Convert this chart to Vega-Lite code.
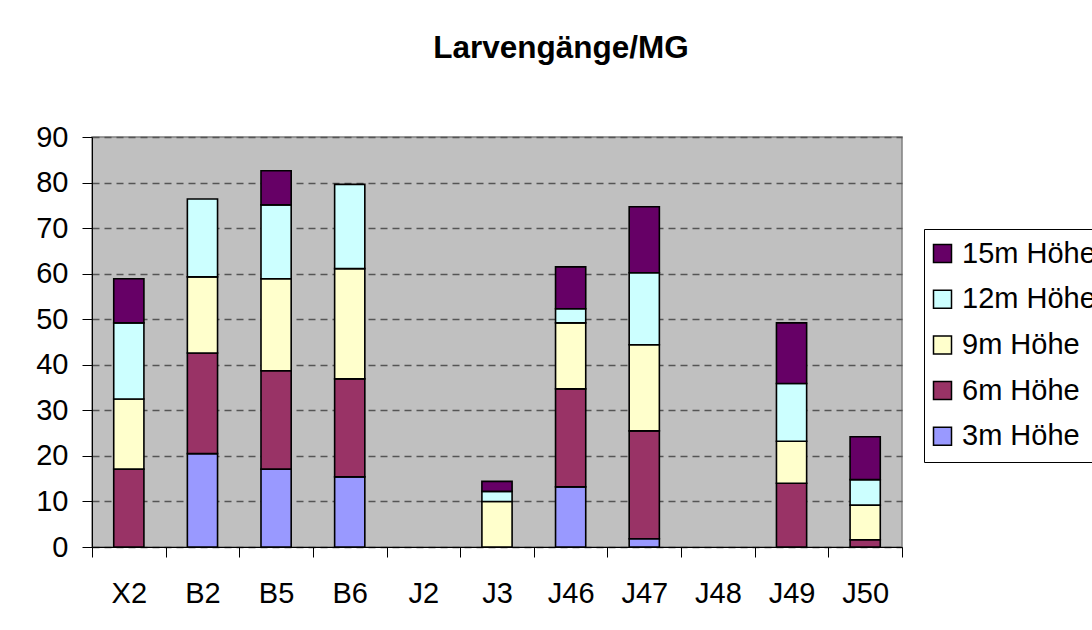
{
  "$schema": "https://vega.github.io/schema/vega-lite/v6.json",
  "width": 810,
  "height": 410,
  "autosize": {"type": "none"},
  "padding": {"left": 92, "top": 137, "right": 190, "bottom": 83},
  "background": "#FFFFFF",
  "title": {
    "text": "Larvengänge/MG",
    "font": "Liberation Sans",
    "fontSize": 31.5,
    "fontWeight": "bold",
    "color": "#000000",
    "anchor": "middle",
    "dx": 64,
    "offset": 59
  },
  "data": {
    "values": [
      {"site": "X2", "level": "6m Höhe", "h": 6, "n": 17.1},
      {"site": "X2", "level": "9m Höhe", "h": 9, "n": 15.4},
      {"site": "X2", "level": "12m Höhe", "h": 12, "n": 16.7},
      {"site": "X2", "level": "15m Höhe", "h": 15, "n": 9.7},
      {"site": "B2", "level": "3m Höhe", "h": 3, "n": 20.5},
      {"site": "B2", "level": "6m Höhe", "h": 6, "n": 22.1},
      {"site": "B2", "level": "9m Höhe", "h": 9, "n": 16.7},
      {"site": "B2", "level": "12m Höhe", "h": 12, "n": 17.1},
      {"site": "B5", "level": "3m Höhe", "h": 3, "n": 17.1},
      {"site": "B5", "level": "6m Höhe", "h": 6, "n": 21.6},
      {"site": "B5", "level": "9m Höhe", "h": 9, "n": 20.2},
      {"site": "B5", "level": "12m Höhe", "h": 12, "n": 16.2},
      {"site": "B5", "level": "15m Höhe", "h": 15, "n": 7.5},
      {"site": "B6", "level": "3m Höhe", "h": 3, "n": 15.4},
      {"site": "B6", "level": "6m Höhe", "h": 6, "n": 21.5},
      {"site": "B6", "level": "9m Höhe", "h": 9, "n": 24.2},
      {"site": "B6", "level": "12m Höhe", "h": 12, "n": 18.5},
      {"site": "J3", "level": "9m Höhe", "h": 9, "n": 10.0},
      {"site": "J3", "level": "12m Höhe", "h": 12, "n": 2.2},
      {"site": "J3", "level": "15m Höhe", "h": 15, "n": 2.2},
      {"site": "J46", "level": "3m Höhe", "h": 3, "n": 13.2},
      {"site": "J46", "level": "6m Höhe", "h": 6, "n": 21.5},
      {"site": "J46", "level": "9m Höhe", "h": 9, "n": 14.5},
      {"site": "J46", "level": "12m Höhe", "h": 12, "n": 3.1},
      {"site": "J46", "level": "15m Höhe", "h": 15, "n": 9.2},
      {"site": "J47", "level": "3m Höhe", "h": 3, "n": 1.8},
      {"site": "J47", "level": "6m Höhe", "h": 6, "n": 23.7},
      {"site": "J47", "level": "9m Höhe", "h": 9, "n": 18.9},
      {"site": "J47", "level": "12m Höhe", "h": 12, "n": 15.8},
      {"site": "J47", "level": "15m Höhe", "h": 15, "n": 14.5},
      {"site": "J49", "level": "6m Höhe", "h": 6, "n": 14.0},
      {"site": "J49", "level": "9m Höhe", "h": 9, "n": 9.2},
      {"site": "J49", "level": "12m Höhe", "h": 12, "n": 12.7},
      {"site": "J49", "level": "15m Höhe", "h": 15, "n": 13.3},
      {"site": "J50", "level": "6m Höhe", "h": 6, "n": 1.6},
      {"site": "J50", "level": "9m Höhe", "h": 9, "n": 7.6},
      {"site": "J50", "level": "12m Höhe", "h": 12, "n": 5.6},
      {"site": "J50", "level": "15m Höhe", "h": 15, "n": 9.4}
    ]
  },
  "mark": {
    "type": "bar",
    "width": {"band": 0.41},
    "stroke": "#000000",
    "strokeWidth": 1.6
  },
  "encoding": {
    "x": {
      "field": "site",
      "type": "nominal",
      "scale": {
        "domain": ["X2", "B2", "B5", "B6", "J2", "J3", "J46", "J47", "J48", "J49", "J50"],
        "paddingInner": 0,
        "paddingOuter": 0
      },
      "axis": {
        "title": null,
        "labelAngle": 0,
        "tickBand": "extent",
        "tickSize": 10,
        "tickColor": "#000000",
        "domainColor": "#000000",
        "labelPadding": 22,
        "labelFont": "Liberation Sans",
        "labelFontSize": 29,
        "labelColor": "#000000",
        "grid": false
      }
    },
    "y": {
      "field": "n",
      "type": "quantitative",
      "stack": "zero",
      "scale": {"domain": [0, 90], "nice": false},
      "axis": {
        "title": null,
        "values": [0, 10, 20, 30, 40, 50, 60, 70, 80, 90],
        "tickSize": 10,
        "tickColor": "#000000",
        "domainColor": "#000000",
        "labelPadding": 14,
        "labelFont": "Liberation Sans",
        "labelFontSize": 29,
        "labelColor": "#000000",
        "grid": true,
        "gridColor": "#555555",
        "gridDash": [7, 5],
        "gridWidth": 1.5
      }
    },
    "color": {
      "field": "level",
      "type": "nominal",
      "scale": {
        "domain": ["15m Höhe", "12m Höhe", "9m Höhe", "6m Höhe", "3m Höhe"],
        "range": ["#660066", "#CCFFFF", "#FFFFCC", "#993366", "#9999FF"]
      },
      "legend": {
        "title": null,
        "orient": "none",
        "legendX": 832,
        "legendY": 92,
        "padding": 10,
        "strokeColor": "#000000",
        "fillColor": "#FFFFFF",
        "symbolType": "square",
        "symbolSize": 324,
        "symbolOffset": -6,
        "symbolStrokeColor": "#000000",
        "symbolStrokeWidth": 1.5,
        "symbolOpacity": 1,
        "labelFont": "Liberation Sans",
        "labelFontSize": 29,
        "labelColor": "#000000",
        "labelOffset": 5,
        "rowPadding": 15.7,
        "labelLimit": 400
      }
    },
    "order": {"field": "h", "type": "quantitative", "sort": "ascending"}
  },
  "config": {
    "view": {"fill": "#C0C0C0", "stroke": "#808080", "strokeWidth": 1.5}
  }
}
